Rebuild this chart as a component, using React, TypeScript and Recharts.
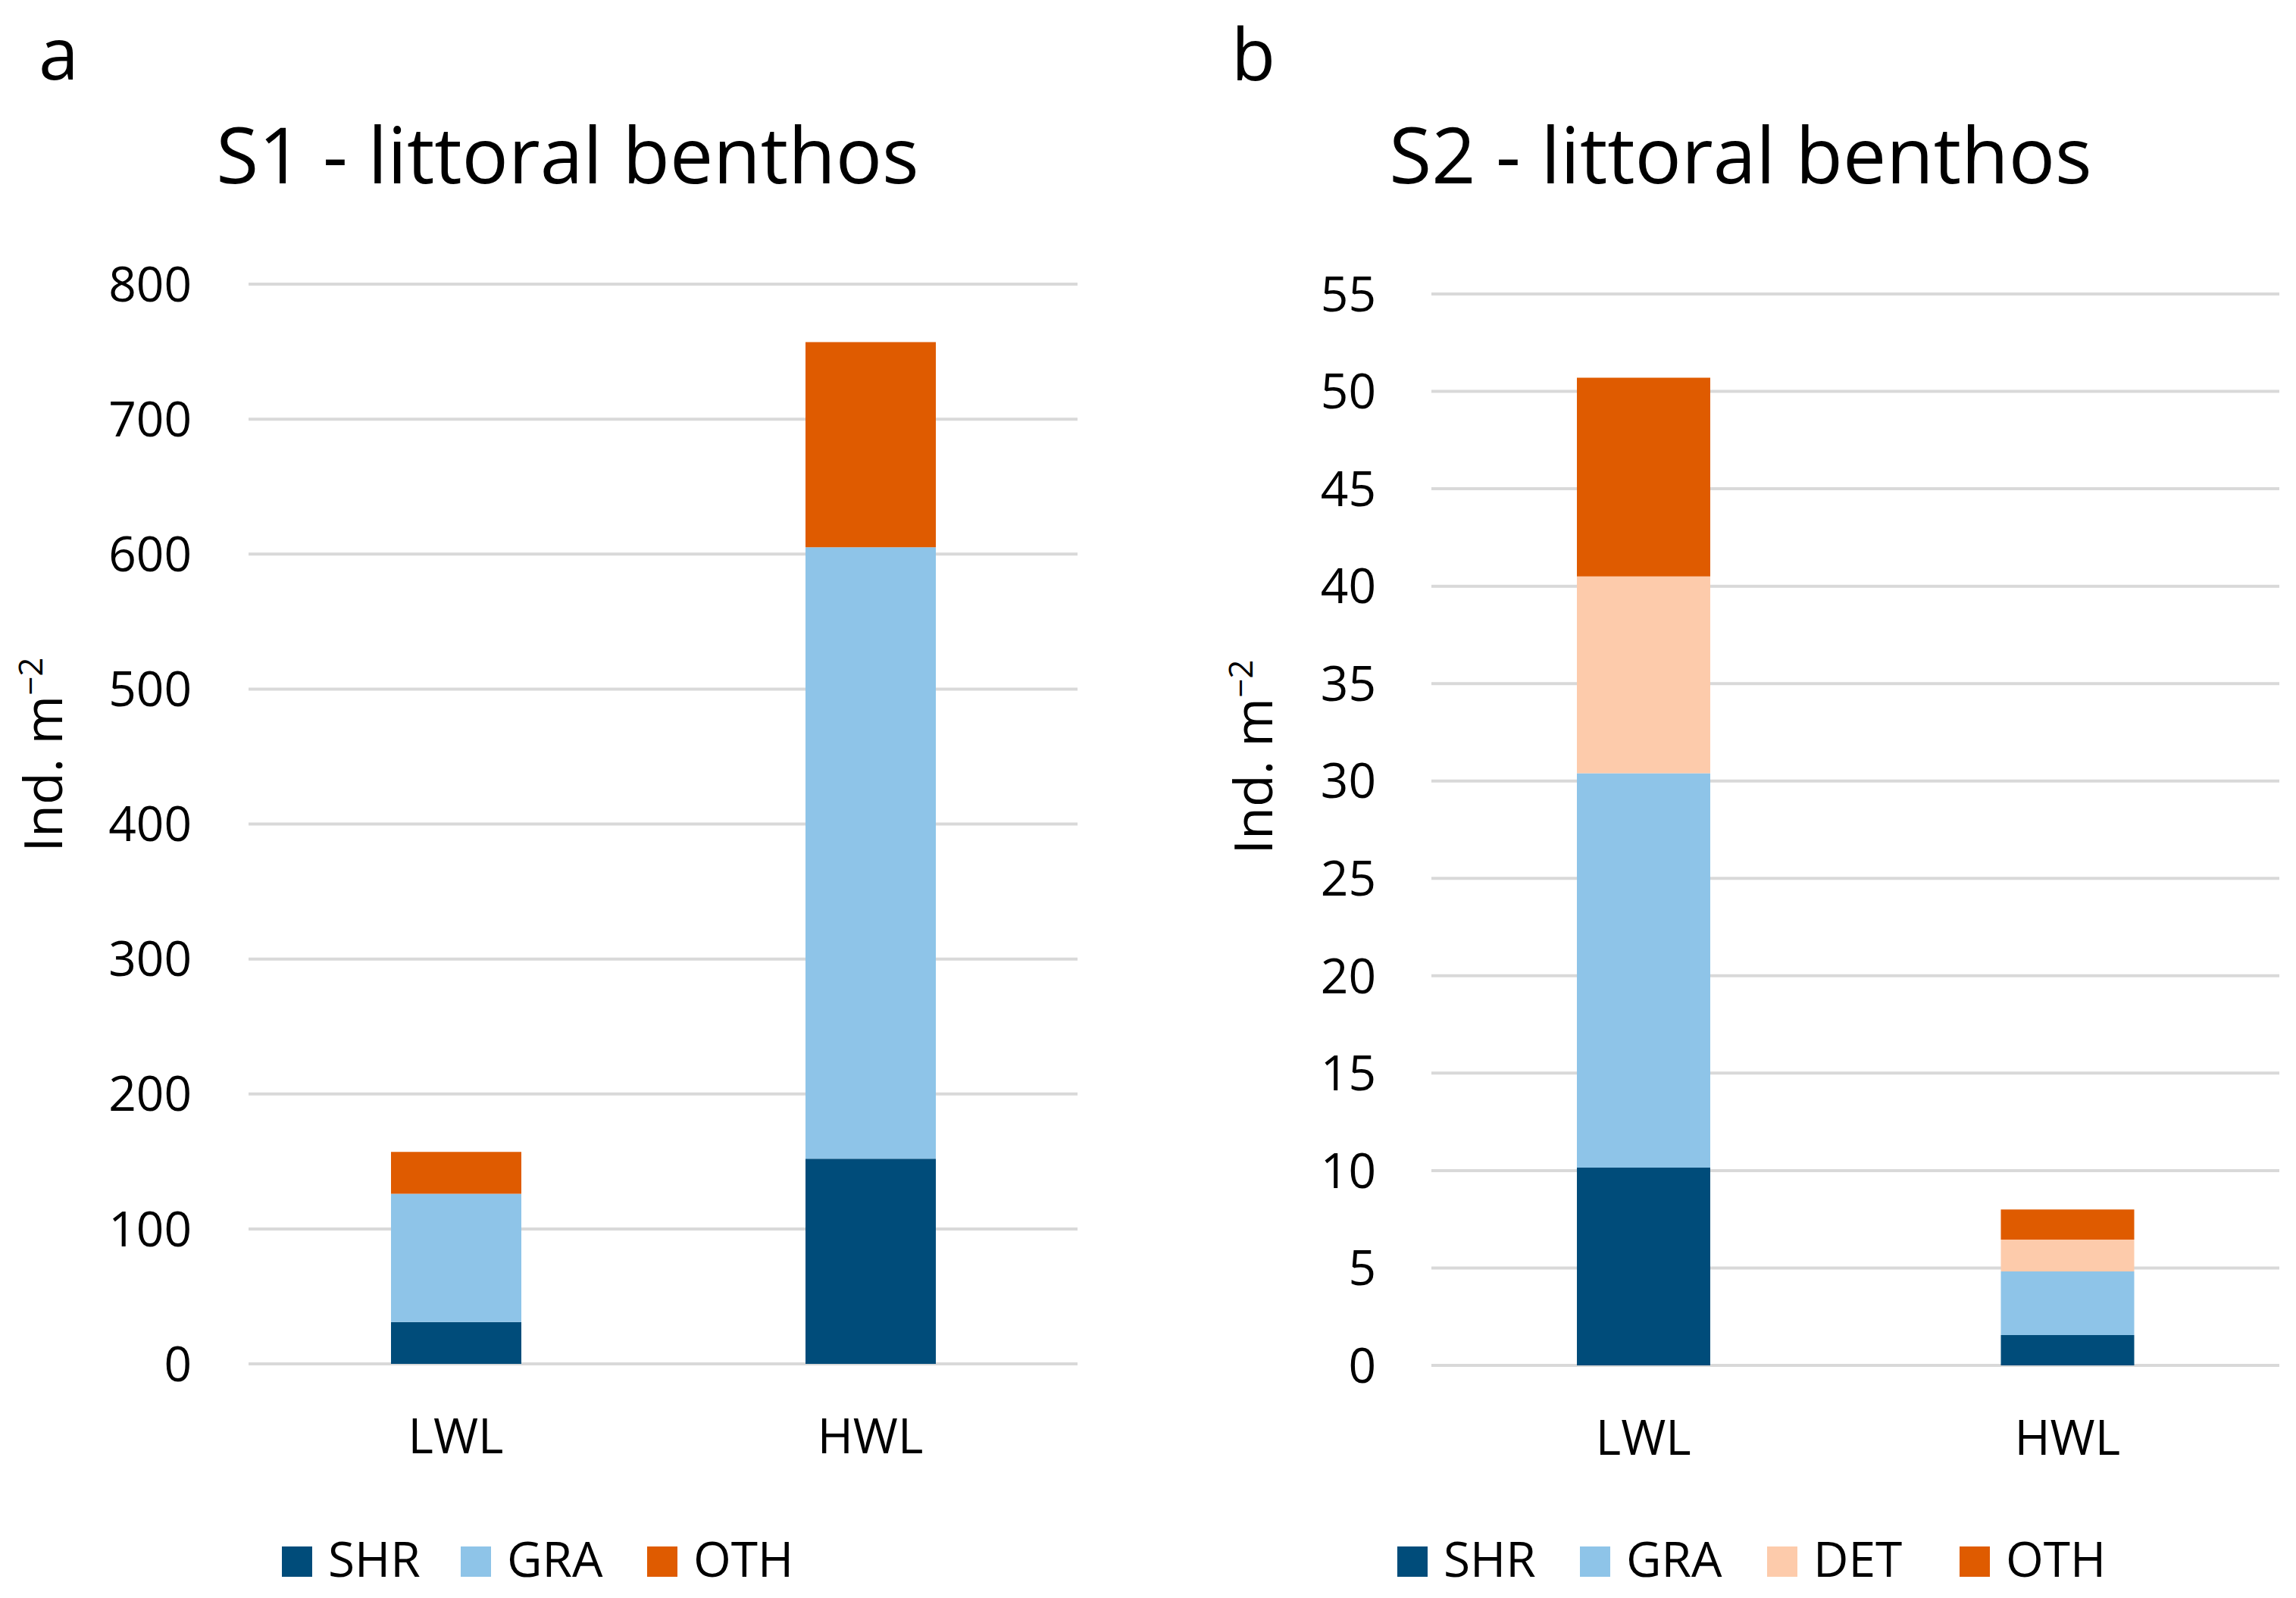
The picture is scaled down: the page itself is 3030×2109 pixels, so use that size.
import React from "react";
import { BarChart, Bar, XAxis, YAxis, CartesianGrid } from "recharts";

// categories and values (Ind. m-2)
const categories = ["LWL", "HWL"];

const s1Shr = [31, 152];
const s1Gra = [95, 453];
const s1Oth = [31, 152];

const s2Shr = [10.15, 1.56];
const s2Gra = [20.25, 3.26];
const s2Det = [10.1, 1.64];
const s2Oth = [10.2, 1.54];

const s1Ticks = [0, 100, 200, 300, 400, 500, 600, 700, 800];
const s2Ticks = [0, 5, 10, 15, 20, 25, 30, 35, 40, 45, 50, 55];

const COLORS: Record<string, string> = {
  SHR: "#004c7a",
  GRA: "#8ec4e8",
  DET: "#fdcbab",
  OTH: "#df5b00",
};

const FONT = "'Open Sans', 'Noto Sans', sans-serif";
const GRID = "#d9d9d9";

const s1Data = categories.map((name, i) => ({
  name,
  SHR: s1Shr[i],
  GRA: s1Gra[i],
  OTH: s1Oth[i],
}));

const s2Data = categories.map((name, i) => ({
  name,
  SHR: s2Shr[i],
  GRA: s2Gra[i],
  DET: s2Det[i],
  OTH: s2Oth[i],
}));

const s1Keys = ["SHR", "GRA", "OTH"];
const s2Keys = ["SHR", "GRA", "DET", "OTH"];

// legend square left edges (layout only)
const legendXA = [372, 608, 854];
const legendXB = [1844, 2085, 2332, 2586];

const tickStyle = { fill: "#000", fontSize: 64, fontFamily: FONT };

function Legend({ keys, xs }: { keys: string[]; xs: number[] }) {
  return (
    <g>
      {keys.map((k, i) => (
        <g key={k}>
          <rect x={xs[i]} y={2041} width={40} height={40} fill={COLORS[k]} />
          <text x={xs[i] + 61} y={2081} fontSize={64} fontFamily={FONT} fill="#000">
            {k}
          </text>
        </g>
      ))}
    </g>
  );
}

function AxisTitle({ x, y }: { x: number; y: number }) {
  return (
    <text
      x={x}
      y={y}
      transform={`rotate(-90, ${x}, ${y})`}
      textAnchor="middle"
      fontSize={70}
      fontFamily={FONT}
      fill="#000"
    >
      Ind. m
      <tspan dy={-26} fontSize={44}>
        −2
      </tspan>
    </text>
  );
}

export default function App() {
  return (
    <div
      style={{
        position: "absolute",
        left: 0,
        top: 0,
        width: 3030,
        height: 2109,
        background: "#fff",
        fontFamily: FONT,
      }}
    >
      {/* panel a */}
      <div style={{ position: "absolute", left: 0, top: 0 }}>
        <BarChart
          width={1500}
          height={2109}
          data={s1Data}
          margin={{ top: 375, right: 78, bottom: 159, left: 0 }}
        >
          <CartesianGrid vertical={false} stroke={GRID} strokeWidth={4} />
          <XAxis
            dataKey="name"
            axisLine={false}
            tickLine={false}
            height={150}
            tickMargin={67}
            tick={tickStyle}
          />
          <YAxis
            width={328}
            domain={[0, 800]}
            ticks={s1Ticks}
            axisLine={false}
            tickLine={false}
            tickMargin={69}
            tick={tickStyle}
          />
          {s1Keys.map((k) => (
            <Bar
              key={k}
              dataKey={k}
              stackId="a"
              fill={COLORS[k]}
              barSize={172}
              isAnimationActive={false}
            />
          ))}
        </BarChart>
      </div>

      {/* panel b */}
      <div style={{ position: "absolute", left: 1500, top: 0 }}>
        <BarChart
          width={1530}
          height={2109}
          data={s2Data}
          margin={{ top: 388, right: 22, bottom: 157, left: 0 }}
        >
          <CartesianGrid vertical={false} stroke={GRID} strokeWidth={4} />
          <XAxis
            dataKey="name"
            axisLine={false}
            tickLine={false}
            height={150}
            tickMargin={67}
            tick={tickStyle}
          />
          <YAxis
            width={389}
            domain={[0, 55]}
            ticks={s2Ticks}
            axisLine={false}
            tickLine={false}
            tickMargin={67}
            tick={tickStyle}
          />
          {s2Keys.map((k) => (
            <Bar
              key={k}
              dataKey={k}
              stackId="b"
              fill={COLORS[k]}
              barSize={176}
              isAnimationActive={false}
            />
          ))}
        </BarChart>
      </div>

      {/* titles, panel letters, axis titles, legends */}
      <svg
        width={3030}
        height={2109}
        style={{ position: "absolute", left: 0, top: 0, pointerEvents: "none" }}
      >
        <text x={51} y={105} fontSize={95} fontFamily={FONT} fill="#000">
          a
        </text>
        <text x={1625} y={106} fontSize={95} fontFamily={FONT} fill="#000">
          b
        </text>
        <text x={749} y={242} textAnchor="middle" fontSize={102} fontFamily={FONT} fill="#000">
          S1 - littoral benthos
        </text>
        <text x={2297} y={242} textAnchor="middle" fontSize={102} fontFamily={FONT} fill="#000">
          S2 - littoral benthos
        </text>
        <AxisTitle x={82} y={996} />
        <AxisTitle x={1679} y={999} />
        <Legend keys={s1Keys} xs={legendXA} />
        <Legend keys={s2Keys} xs={legendXB} />
      </svg>
    </div>
  );
}
